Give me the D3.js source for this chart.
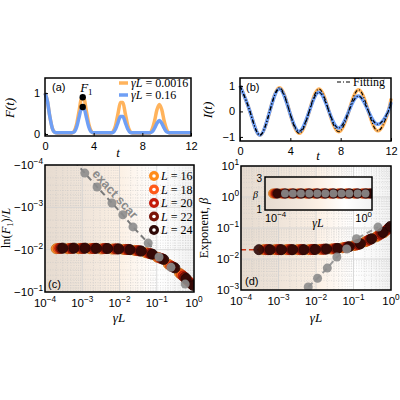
<!DOCTYPE html>
<html><head><meta charset="utf-8">
<script src="https://cdn.jsdelivr.net/npm/d3@7"></script>
<style>body{margin:0;background:#fff}</style>
</head><body>
<svg id="chart" width="400" height="400"></svg>
<script>
// panel (a): fidelity F(t), sampled every 0.2 from t=0 to 12
const fOrange = [1,.8,.42,.14,.04, .02,.02,.02,.02,.02,.02,.02,
  .07,.24,.56,.86,.86,.56,.24,.07, .02,.02,.02,.02,.02,.02,.02,.02,
  .06,.21,.5,.77,.77,.5,.21,.06, .02,.02,.02,.02,.02,.02,.02,.02,
  .11,.31,.59,.72,.59,.31,.11,.03, .02,.02,.02,.02,.02,.02,.02,.02,.02];
const fBlue = [1,.8,.42,.14,.04, .03,.03,.03,.03,.03,.03,.03,
  .05,.17,.41,.62,.62,.41,.17,.05, .03,.03,.03,.03,.03,.03,.03,.03,
  .04,.12,.28,.43,.43,.28,.12,.04, .03,.03,.03,.03,.03,.03,.03,.03,
  .05,.14,.26,.33,.26,.14,.05,.03, .03,.03,.03,.03,.03,.03,.03,.03,.03];
const f1Points = [0.9, 0.66];

// panel (b): imbalance I(t), quarter-period samples
const tI = [0,0.79,1.57,2.36,3.14,3.93,4.71,5.5,6.28,7.07,7.85,8.64,9.42,10.21,10.99,11.78,12];
const iOrange = [1,0,-0.93,0,0.93,0,-0.86,0,0.88,0,-0.8,0,0.85,0,-0.76,0,0.5];
const iBlue = [1,0,-0.93,0,0.88,0,-0.78,0,0.75,0,-0.65,0,0.6,0,-0.5,0,0.36];

// panels (c),(d): system sizes, gamma values
const sizes = [16, 18, 20, 22, 24];
const sizeColors = ["#ff8c1a", "#ff5a1a", "#c41a0a", "#7a1408", "#2e0806"];
const gammas = [1.25e-5,2.5e-5,5e-5,1e-4,2e-4,4e-4,8e-4,1.6e-3,3.2e-3,6.4e-3,1.28e-2,2.56e-2,4e-2];
const lnF1 = [
  [.0095,.0095,.0095,.0095,.0096,.0097,.0099,.0104,.0118,.015,.022,.036,.052],
  [.0094,.0094,.0094,.0094,.0095,.0096,.0099,.0105,.012,.0155,.0235,.039,.056],
  [.0093,.0093,.0093,.0094,.0094,.0096,.0099,.0106,.0123,.016,.025,.042,.061],
  [.0093,.0093,.0093,.0093,.0094,.0096,.0099,.0107,.0126,.0165,.026,.045,.066],
  [.0092,.0092,.0092,.0093,.0094,.0096,.01,.0108,.0128,.017,.027,.048,.07]];
const exponent = [
  [.020,.020,.020,.020,.020,.020,.0205,.021,.023,.027,.036,.052,.07],
  [.020,.020,.020,.020,.020,.020,.0205,.0212,.0235,.028,.038,.057,.08],
  [.020,.020,.020,.020,.020,.0202,.0207,.0215,.024,.029,.041,.062,.09],
  [.020,.020,.020,.020,.020,.0202,.0208,.0218,.0245,.03,.043,.067,.1],
  [.020,.020,.020,.020,.020,.0203,.021,.022,.025,.031,.045,.072,.112]];
const scarX_c = [1.17e-3,2.5e-3,6.3e-3,0.0123,0.023,0.059,0.115,0.24,0.58];
const scarY_c = [1.55e-4,3.3e-4,7.9e-4,1.5e-3,2.9e-3,7e-3,0.0149,0.026,0.065];
const scarX_d = [0.0062,0.011,0.02,0.036,0.066,0.12,0.45];
const scarY_d = [0.00126,0.0024,0.0051,0.0115,0.021,0.045,0.107];
const insetScarX = [5.6e-4,1.1e-3,2.2e-3,4.5e-3,9e-3,0.018,0.036,0.072,0.14,0.29,0.57];
const insetBeta = 2;

const svg = d3.select("#chart");
const sans = "Liberation Sans, Arial, sans-serif";
const serif = "Liberation Serif, DejaVu Serif, serif";
const orange = "#ffb35c", blue = "#6f9ff5", grey = "#8c8c8c";

const defs = svg.append("defs");
const grad = defs.append("linearGradient").attr("id", "bg");
[[0,"#e6dbd0"],[0.35,"#f3e8dd"],[0.5,"#fcf0e4"],[0.75,"#ffffff"],[1,"#f2f2f2"]]
  .forEach(([o,c]) => grad.append("stop").attr("offset", o).attr("stop-color", c));

function frame(x0, x1, y0, y1) {
  svg.append("rect").attr("x", x0).attr("y", y0).attr("width", x1 - x0).attr("height", y1 - y0)
    .attr("fill", "none").attr("stroke", "#000").attr("stroke-width", 1.5);
}
function clip(id, x0, x1, y0, y1) {
  defs.append("clipPath").attr("id", id).append("rect")
    .attr("x", x0).attr("y", y0).attr("width", x1 - x0).attr("height", y1 - y0);
  return `url(#${id})`;
}
function supLabel(g, x, y, base, exp, anchor, size = 11) {
  const t = g.append("text").attr("x", x).attr("y", y).attr("text-anchor", anchor)
    .style("font-family", sans).style("font-size", size + "px").text(base);
  t.append("tspan").attr("dy", -5).style("font-size", (size * 0.72) + "px").text(exp);
}
function linearAxes(x, y, xt, yt, yfmt) {
  const [x0, x1] = x.range(), [y1, y0] = y.range();
  const g = svg.append("g");
  g.append("g").attr("transform", `translate(0,${y1})`)
    .call(d3.axisBottom(x).tickValues(xt).tickSize(-3).tickPadding(6))
    .call(s => s.select(".domain").remove());
  g.append("g").attr("transform", `translate(${x0},0)`)
    .call(d3.axisLeft(y).tickValues(yt).tickSize(-3).tickPadding(5).tickFormat(yfmt))
    .call(s => s.select(".domain").remove());
  g.selectAll("text").style("font-family", sans).style("font-size", "11px");
  frame(x0, x1, y0, y1);
}
function mathText(x, y, opts = {}) {
  const t = svg.append("text").attr("x", x).attr("y", y)
    .attr("text-anchor", opts.anchor || "middle")
    .style("font-family", serif).style("font-size", (opts.size || 12) + "px");
  if (opts.rotate) t.attr("transform", `rotate(-90,${x},${y})`);
  return t;
}

// ---------- (a) ----------
const xa = d3.scaleLinear().domain([0, 12]).range([45, 191]);
const ya = d3.scaleLinear().domain([-0.05, 1.37]).range([136, 78]);
const tF = fOrange.map((_, i) => i * 0.2);
const lineA = d3.line().x((d, i) => xa(tF[i])).y(d => ya(d)).curve(d3.curveMonotoneX);
svg.append("path").attr("d", lineA(fOrange)).attr("fill", "none").attr("stroke", orange).attr("stroke-width", 3.5);
svg.append("path").attr("d", lineA(fBlue)).attr("fill", "none").attr("stroke", blue).attr("stroke-width", 3.5);
svg.selectAll(".f1").data(f1Points).join("circle")
  .attr("cx", xa(3.1)).attr("cy", d => ya(d)).attr("r", 3.2).attr("fill", "#000");
linearAxes(xa, ya, [0, 4, 8, 12], [0, 1], d3.format("d"));
svg.append("text").attr("x", 52).attr("y", 91).style("font-family", sans).style("font-size", "11px").text("(a)");
const f1 = mathText(xa(3.4), 92, { size: 13 });
f1.append("tspan").style("font-style", "italic").text("F");
f1.append("tspan").attr("dy", 3).style("font-size", "9px").text("1");
[[orange, "0.0016", 87], [blue, "0.16", 99]].forEach(([c, v, yy]) => {
  svg.append("line").attr("x1", 119).attr("x2", 128).attr("y1", yy - 4).attr("y2", yy - 4)
    .attr("stroke", c).attr("stroke-width", 3.5);
  svg.append("text").attr("x", 131).attr("y", yy).style("font-family", serif).style("font-size", "12px")
    .html(`<tspan font-style="italic">γL</tspan> = ${v}`);
});
mathText(14, 108, { rotate: true, size: 13 }).style("font-style", "italic").text("F(t)");
mathText(118, 157, { size: 13 }).style("font-style", "italic").text("t");

// ---------- (b) ----------
const xb = d3.scaleLinear().domain([0, 12]).range([240, 391]);
const yb = d3.scaleLinear().domain([-1.16, 1.31]).range([141, 78]);
const lineB = d3.line().x((d, i) => xb(tI[i])).y(d => yb(d)).curve(d3.curveNatural);
svg.append("path").attr("d", lineB(iOrange)).attr("fill", "none").attr("stroke", orange).attr("stroke-width", 3.5);
svg.append("path").attr("d", lineB(iBlue)).attr("fill", "none").attr("stroke", blue).attr("stroke-width", 3.5);
[iOrange, iBlue].forEach(s => svg.append("path").attr("d", lineB(s)).attr("fill", "none")
  .attr("stroke", "#000").attr("stroke-width", 1.1).attr("stroke-dasharray", "4,2,1,2"));
linearAxes(xb, yb, [0, 4, 8, 12], [-1, 0, 1], d => d < 0 ? "−1" : d3.format("d")(d));
svg.append("text").attr("x", 246).attr("y", 91).style("font-family", sans).style("font-size", "11px").text("(b)");
svg.append("line").attr("x1", 337).attr("x2", 351).attr("y1", 82).attr("y2", 82)
  .attr("stroke", "#000").attr("stroke-width", 1.2).attr("stroke-dasharray", "4,2,1,2");
svg.append("text").attr("x", 353).attr("y", 86).style("font-family", serif).style("font-size", "12px").text("Fitting");
mathText(212, 110, { rotate: true, size: 13 }).style("font-style", "italic").text("I(t)");
mathText(318, 160, { size: 13 }).style("font-style", "italic").text("t");

// ---------- log panels helpers ----------
function logGrid(x, y) {
  const [x0, x1] = x.range(), [y0, y1] = [Math.min(...y.range()), Math.max(...y.range())];
  svg.append("rect").attr("x", x0).attr("y", y0).attr("width", x1 - x0).attr("height", y1 - y0).attr("fill", "url(#bg)");
  const g = svg.append("g");
  const minor = (sc) => { const [a, b] = sc.domain().map(Math.log10).sort((p, q) => p - q); const v = [];
    for (let e = Math.floor(a); e < b; e++) for (let k = 2; k < 10; k++) v.push(k * 10 ** e); return v; };
  const major = (sc) => { const [a, b] = sc.domain().map(Math.log10).sort((p, q) => p - q); return d3.range(a, b + 0.01).map(e => 10 ** e); };
  minor(x).forEach(v => g.append("line").attr("x1", x(v)).attr("x2", x(v)).attr("y1", y0).attr("y2", y1)
    .attr("stroke", "#c4c4c4").attr("stroke-width", 0.5).attr("stroke-dasharray", "1,1.5"));
  minor(y).forEach(v => g.append("line").attr("y1", y(v)).attr("y2", y(v)).attr("x1", x0).attr("x2", x1)
    .attr("stroke", "#c4c4c4").attr("stroke-width", 0.5).attr("stroke-dasharray", "1,1.5"));
  major(x).forEach(v => g.append("line").attr("x1", x(v)).attr("x2", x(v)).attr("y1", y0).attr("y2", y1)
    .attr("stroke", "#d0d0d0").attr("stroke-width", 0.8));
  major(y).forEach(v => g.append("line").attr("y1", y(v)).attr("y2", y(v)).attr("x1", x0).attr("x2", x1)
    .attr("stroke", "#d0d0d0").attr("stroke-width", 0.8));
}
function logTicks(x, y, xExps, yExps, yPrefix) {
  const [x0] = x.range(), y1 = Math.max(...y.range());
  const g = svg.append("g");
  xExps.forEach(e => supLabel(g, x(10 ** e), y1 + 15, "10", e < 0 ? "−" + (-e) : "" + e, "middle", 11.5));
  yExps.forEach(e => supLabel(g, x0 - 2, y(10 ** e) + 4, yPrefix + "10", e < 0 ? "−" + (-e) : "" + e, "end", 11.5));
}
function scatter(x, y, xs, ys, cp, r, col, stroke) {
  svg.append("g").attr("clip-path", cp).selectAll("circle").data(xs).join("circle")
    .attr("cx", d => x(d)).attr("cy", (d, i) => y(ys[i])).attr("r", r)
    .attr("fill", col).attr("stroke", stroke).attr("stroke-width", 1).attr("opacity", 0.9);
}
function dashed(x, y, xs, ys, cp, col) {
  svg.append("path").attr("clip-path", cp)
    .attr("d", d3.line().x(d => x(d)).y((d, i) => y(ys[i]))(xs))
    .attr("fill", "none").attr("stroke", col).attr("stroke-width", 2).attr("stroke-dasharray", "6,4");
}

// ---------- (c) ----------
const xc = d3.scaleLog().domain([1e-4, 1]).range([45, 194]);
const yc = d3.scaleLog().domain([1e-4, 1e-1]).range([165, 292]);
logGrid(xc, yc);
const cpC = clip("clipC", 45, 194, 165, 292);
dashed(xc, yc, [6e-4].concat(scarX_c), [8e-5].concat(scarY_c), cpC, "#7a7a7a");
sizes.forEach((L, s) => scatter(xc, yc, gammas.map(g => g * L), lnF1[s], cpC, 5, sizeColors[s], d3.color(sizeColors[s]).darker(0.6)));
scatter(xc, yc, scarX_c, scarY_c, cpC, 4.5, grey, "none");
svg.append("text").attr("transform", "translate(112,197) rotate(48)")
  .attr("text-anchor", "middle").style("font-family", sans).style("font-size", "12.5px")
  .style("font-weight", "bold").attr("fill", "#8a8a8a").text("exact scar");
frame(45, 194, 165, 292);
logTicks(xc, yc, [-4, -3, -2, -1, 0], [-4, -3, -2, -1], "−");
svg.append("text").attr("x", 48).attr("y", 288).style("font-family", sans).style("font-size", "11px").text("(c)");
sizes.forEach((L, s) => {
  const yy = 176 + s * 13.5;
  svg.append("circle").attr("cx", 154).attr("cy", yy).attr("r", 5).attr("fill", sizeColors[s]);
  svg.append("circle").attr("cx", 154).attr("cy", yy).attr("r", 1.8).attr("fill", "#fff");
  svg.append("text").attr("x", 161).attr("y", yy + 4).style("font-family", serif).style("font-size", "12px")
    .html(`<tspan font-style="italic">L</tspan> = ${L}`);
});
const lc = svg.append("text").attr("transform", "translate(10,228) rotate(-90)").attr("text-anchor", "middle")
  .style("font-family", serif).style("font-size", "12.5px");
lc.append("tspan").text("ln(");
lc.append("tspan").style("font-style", "italic").text("F");
lc.append("tspan").attr("dy", 3).style("font-size", "8.5px").text("1");
lc.append("tspan").attr("dy", -3).text(")/");
lc.append("tspan").style("font-style", "italic").text("L");
mathText(119, 322, { size: 13 }).style("font-style", "italic").text("γL");

// ---------- (d) ----------
const xd = d3.scaleLog().domain([1e-4, 1]).range([241, 391]);
const yd = d3.scaleLog().domain([1e-3, 10]).range([290, 166]);
logGrid(xd, yd);
const cpD = clip("clipD", 241, 391, 166, 290);
svg.append("line").attr("x1", 241).attr("x2", 265).attr("y1", yd(0.02)).attr("y2", yd(0.02))
  .attr("stroke", "#d03a1a").attr("stroke-width", 1.5).attr("stroke-dasharray", "5,3");
dashed(xd, yd, scarX_d, scarY_d, cpD, "#9a9a9a");
sizes.forEach((L, s) => {
  const keep = gammas.map((g, i) => i).filter(i => gammas[i] * L >= 3e-4);
  scatter(xd, yd, keep.map(i => gammas[i] * L), keep.map(i => exponent[s][i]), cpD, 5, sizeColors[s], d3.color(sizeColors[s]).darker(0.6));
});
scatter(xd, yd, scarX_d, scarY_d, cpD, 4.5, grey, "none");
frame(241, 391, 166, 290);
logTicks(xd, yd, [-4, -3, -2, -1, 0], [-3, -2, -1, 0, 1], "");
svg.append("text").attr("x", 245).attr("y", 285).style("font-family", sans).style("font-size", "11px").text("(d)");
const ld = svg.append("text").attr("transform", "translate(208,228) rotate(-90)").attr("text-anchor", "middle")
  .style("font-family", serif).style("font-size", "12.5px");
ld.append("tspan").text("Exponent, ");
ld.append("tspan").style("font-style", "italic").text("β");
mathText(316, 322, { size: 13 }).style("font-style", "italic").text("γL");

// inset
const xi = d3.scaleLog().domain([1e-4, 1]).range([265, 372]);
const yi = d3.scaleLinear().domain([1, 3]).range([210, 177]);
svg.append("rect").attr("x", 265).attr("y", 177).attr("width", 107).attr("height", 33).attr("fill", "url(#bg)");
const cpI = clip("clipI", 265, 372, 177, 210);
sizes.forEach((L, s) => scatter(xi, yi, gammas.map(g => g * L), gammas.map(() => insetBeta), cpI, 4.5, sizeColors[s], d3.color(sizeColors[s]).darker(0.6)));
scatter(xi, yi, insetScarX, insetScarX.map(() => insetBeta), cpI, 4, grey, "none");
frame(265, 372, 177, 210);
const gi = svg.append("g").style("font-family", sans).style("font-size", "10px");
gi.append("text").attr("x", 262).attr("y", 182).attr("text-anchor", "end").text("3");
gi.append("text").attr("x", 262).attr("y", 213).attr("text-anchor", "end").text("1");
gi.append("text").attr("x", 258).attr("y", 198).attr("text-anchor", "end").style("font-family", serif)
  .style("font-style", "italic").text("β");
supLabel(gi, 265, 222, "10", "−4", "start", 11);
supLabel(gi, 372, 222, "10", "0", "end", 11);
mathText(318, 227, { size: 12 }).style("font-style", "italic").text("γL");
</script>
</body></html>
